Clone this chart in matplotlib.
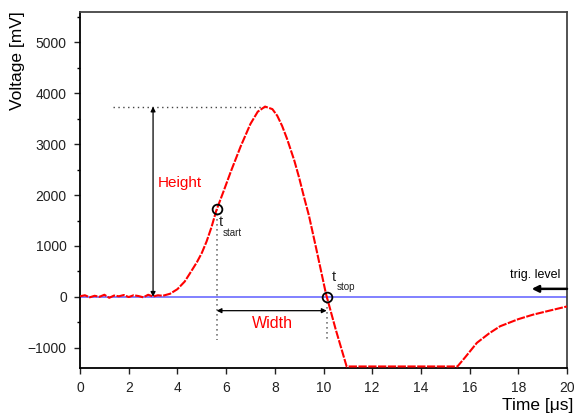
import matplotlib
matplotlib.use("Agg")
import matplotlib.pyplot as plt
from matplotlib.ticker import MultipleLocator

plt.rcParams['font.family'] = ['Liberation Sans', 'DejaVu Sans']

# signal (time in us, voltage in mV)
time_us = [0.0, 0.2, 0.4, 0.6, 0.8, 1.0, 1.2, 1.4, 1.6, 1.8, 2.0, 2.2, 2.4,
           2.6, 2.8, 3.0, 3.2, 3.4, 3.7, 4.0, 4.3, 4.5, 4.8, 5.0, 5.2, 5.4,
           5.6, 5.9, 6.2, 6.6, 7.0, 7.3, 7.6, 7.9, 8.1, 8.3, 8.5, 8.8, 9.0, 9.2,
           9.4, 9.7, 10.1, 10.5, 10.95, 12.0, 14.0, 15.5, 15.8, 16.3, 16.8,
           17.25, 18.0, 18.6, 19.3, 20.0]
voltage_mv = [10, 30, -10, 20, 0, 40, -20, 25, 10, 35, -5, 30, 15,
              -10, 40, 5, 30, 20, 60, 150, 300, 450, 680, 860, 1090, 1370,
              1700, 2080, 2470, 2960, 3400, 3640, 3740, 3690, 3560, 3360, 3110, 2680, 2340, 1960,
              1600, 950, 60, -640, -1370, -1370, -1370, -1370, -1200, -905, -720,
              -580, -440, -352, -270, -190]

trig_level = 0
peak_t, peak_v = 7.6, 3740
t_start, v_start = 5.61, 1730
t_stop, v_stop = 10.13, 0
base_t = 3.0
width_y = -273
drop_y = -840

fig, ax = plt.subplots(figsize=(5.74, 4.16), dpi=100)
fig.subplots_adjust(left=0.1394, right=0.9878, bottom=0.1154, top=0.9712)

ax.axhline(trig_level, color="#6b6bff", lw=1.2, zorder=2)
ax.plot(time_us, voltage_mv, color="red", lw=1.5, ls=(0, (4, 0.7)), zorder=3)

# height marker
ax.plot([1.36, peak_t], [peak_v, peak_v], color="#444444", ls=(0, (1, 2.5)), lw=1)
ax.annotate("", xy=(base_t, peak_v), xytext=(base_t, 0),
            arrowprops=dict(arrowstyle="<|-|>", color="black", lw=0.9,
                            mutation_scale=7, shrinkA=0, shrinkB=0))
ax.text(3.2, 2230, "Height", color="red", fontsize=11, va="center", ha="left")

# start / stop points
ax.plot([t_start, t_stop], [v_start, v_stop], "o", mfc="none", mec="black",
        ms=7, mew=1.3, zorder=4)
ax.plot([t_start, t_start], [v_start, drop_y], color="#777777", ls=(0, (1, 2)), lw=1.2)
ax.plot([t_stop, t_stop], [v_stop, drop_y], color="#777777", ls=(0, (1, 2)), lw=1.2)
ax.text(5.71, 1465, "t", fontsize=10.5, va="center", ha="left", color="#222222")
ax.text(5.87, 1256, "start", fontsize=7, va="center", ha="left", color="#222222")
ax.text(10.35, 380, "t", fontsize=10.5, va="center", ha="left", color="#222222")
ax.text(10.55, 200, "stop", fontsize=7, va="center", ha="left", color="#222222")

# width marker
ax.annotate("", xy=(t_stop, width_y), xytext=(t_start, width_y),
            arrowprops=dict(arrowstyle="<|-|>", color="black", lw=0.9,
                            mutation_scale=7, shrinkA=0, shrinkB=0))
ax.text(7.9, -530, "Width", color="red", fontsize=11.5, va="center", ha="center")

# trigger level
ax.annotate("", xy=(18.55, 156), xytext=(20, 156),
            arrowprops=dict(arrowstyle="-|>", color="black", lw=1.8,
                            mutation_scale=10, shrinkA=0, shrinkB=0))
ax.text(19.71, 430, "trig. level", fontsize=9, va="center", ha="right")

ax.set_xlim(0, 20)
ax.set_ylim(-1400, 5600)
ax.xaxis.set_major_locator(MultipleLocator(2))
ax.yaxis.set_major_locator(MultipleLocator(1000))
ax.yaxis.set_minor_locator(MultipleLocator(500))
ax.tick_params(axis="both", which="major", direction="out", length=4, width=1,
               labelsize=10, pad=5.5, colors="#222222")
ax.tick_params(axis="y", which="minor", direction="out", length=2.5, width=1)
ax.set_yticks([-1000, 0, 1000, 2000, 3000, 4000, 5000])

for side in ["left", "bottom"]:
    ax.spines[side].set_color("black")
    ax.spines[side].set_linewidth(1.3)
for side in ["top", "right"]:
    ax.spines[side].set_color("#444444")
    ax.spines[side].set_linewidth(1.3)

ax.set_ylabel("Voltage [mV]", fontsize=12.5)
ax.yaxis.set_label_coords(-0.113, 0.862)
ax.set_xlabel("Time [\u03bcs]", fontsize=12.5)
ax.xaxis.set_label_coords(0.94, -0.085)

plt.savefig("out.png", dpi=100)
